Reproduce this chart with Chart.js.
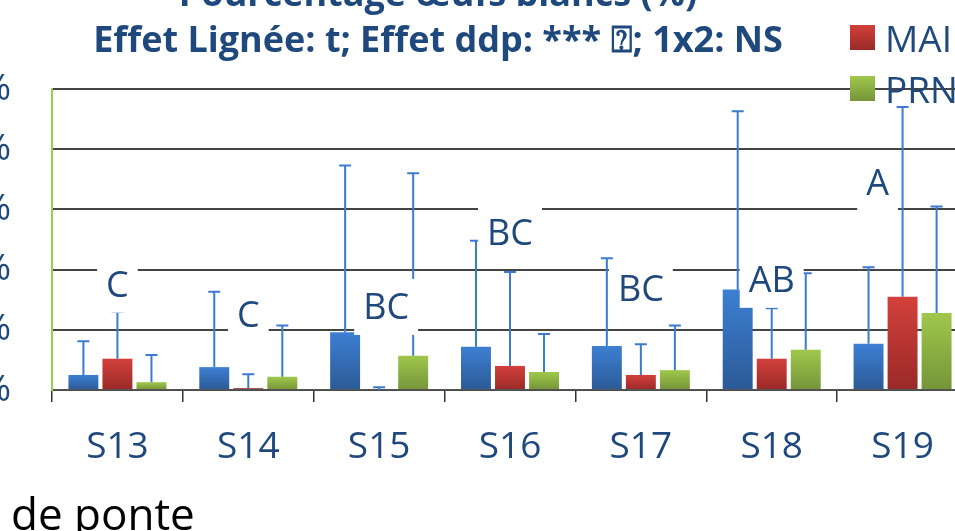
<!DOCTYPE html>
<html lang="fr">
<head>
<meta charset="UTF-8">
<title>Pourcentage œufs blancs</title>
<script src="https://cdn.jsdelivr.net/npm/chart.js"></script>
<style>
  body {
    margin: 0;
    width: 955px;
    height: 531px;
    overflow: hidden;
    position: relative;
    background: #fff;
    font-family: "Open Sans", "DejaVu Sans", sans-serif;
  }
  #wrap { position: absolute; left: -92px; top: -40px; }
  #legend { position: absolute; left: 850px; top: -39px; white-space: nowrap; }
  .item { display: flex; align-items: center; height: 51px; font-size: 37px; color: #1f497d; }
  .item:first-child { margin-top: -16px; height: 67px; align-items: flex-start; }
  .sw { width: 25px; height: 25px; margin-right: 10px; flex: none; }
  #footer { position: absolute; left: 11px; top: 491px; font-size: 44px; line-height: 44px; color: #000; }
</style>
</head>
<body>
<div id="wrap"><canvas id="chart" width="1060" height="571"></canvas></div>
<div id="legend"></div>
<div id="footer">de ponte</div>

<script>
// semaines de ponte
const weeks = ['S13', 'S14', 'S15', 'S16', 'S17', 'S18', 'S19'];
const seriesNames = ['Série 1', 'MAI', 'PRN'];

// moyennes (%)
const blueValues = [0.5, 0.76, 1.92, 1.44, 1.46, 3.34, 1.54];
const redValues = [1.04, 0.06, 0, 0.8, 0.5, 1.04, 3.1];
const greenValues = [0.26, 0.44, 1.14, 0.6, 0.66, 1.34, 2.56];

// écarts-types (barre du haut seulement)
const blueErr = [1.12, 2.5, 5.54, 3.52, 2.92, 5.92, 2.54];
const redErr = [1.56, 0.46, 0.09, 3.12, 1.02, 1.68, 6.3];
const greenErr = [0.9, 1.7, 6.06, 1.26, 1.48, 2.54, 3.54];

// lettres de comparaison et leur niveau (%)
const letters = ['C', 'C', 'BC', 'BC', 'BC', 'AB', 'A'];
const letterLevel = [3.5, 2.5, 2.76, 5.24, 3.36, 3.66, 6.9];

const yTicks = [0, 2, 4, 6, 8, 10];

const colors = [
    ['#3d7fd3', '#2b5a96'],
    ['#d3403b', '#992a28'],
    ['#9fc84b', '#75943a']
];

function barGradient(top, bottom) {
    return function(ctx) {
        const chart = ctx.chart;
        if (!chart.chartArea || ctx.type !== 'data') return top;
        const y = chart.scales.y;
        const y0 = y.getPixelForValue(ctx.raw);
        const y1 = y.getPixelForValue(0);
        if (y1 - y0 < 2) return bottom;
        const g = chart.ctx.createLinearGradient(0, y0, 0, y1);
        g.addColorStop(0, top);
        g.addColorStop(1, bottom);
        return g;
    };
}

const errorsAndLetters = {
    id: 'errorsAndLetters',
    afterDatasetsDraw(chart, args, opts) {
        const ctx = chart.ctx;
        const y = chart.scales.y;
        const x = chart.scales.x;
        ctx.save();
        ctx.strokeStyle = opts.color;
        ctx.lineWidth = 2;
        chart.data.datasets.forEach((ds, i) => {
            chart.getDatasetMeta(i).data.forEach((bar, j) => {
                const top = y.getPixelForValue(ds.data[j] + ds.errors[j]);
                ctx.beginPath();
                ctx.moveTo(bar.x, bar.y);
                ctx.lineTo(bar.x, top);
                ctx.moveTo(bar.x - 6, top);
                ctx.lineTo(bar.x + 6, top);
                ctx.stroke();
            });
        });
        ctx.font = '36px "Open Sans", sans-serif';
        ctx.textAlign = 'center';
        ctx.textBaseline = 'middle';
        letters.forEach((t, j) => {
            const cx = x.getPixelForValue(j) + opts.shift[j];
            const cy = y.getPixelForValue(letterLevel[j]);
            const w = ctx.measureText(t).width + 18;
            ctx.fillStyle = '#fff';
            ctx.fillRect(cx - w / 2, cy - 28, w, 56);
            ctx.fillStyle = '#1f497d';
            ctx.fillText(t, cx, cy + 2);
        });
        ctx.restore();
    }
};

const datasets = [blueValues, redValues, greenValues].map((vals, i) => ({
    label: seriesNames[i],
    data: vals,
    errors: [blueErr, redErr, greenErr][i],
    backgroundColor: barGradient(colors[i][0], colors[i][1]),
    categoryPercentage: 0.78,
    barPercentage: 0.88
}));

const chart = new Chart(document.getElementById('chart'), {
    type: 'bar',
    data: { labels: weeks, datasets: datasets },
    options: {
        responsive: false,
        animation: false,
        layout: { padding: 0 },
        plugins: {
            legend: { display: false },
            tooltip: { enabled: false },
            title: {
                display: true,
                text: ['Pourcentage œufs blancs (%)', 'Effet Lignée: t; Effet ddp: *** ⍰; 1x2: NS'],
                color: '#1f497d',
                font: { family: '"Open Sans", "DejaVu Sans", sans-serif', size: 36, weight: 'bold', lineHeight: 46 / 36 },
                padding: { top: 13, bottom: 24 }
            },
            errorsAndLetters: {
                color: '#3b7bd0',
                shift: [0, 0, 7, 0, 0, 0, -25]
            }
        },
        scales: {
            x: {
                grid: { offset: true, drawOnChartArea: false, tickLength: 12, color: '#333', lineWidth: 1.5 },
                border: { color: '#555', width: 1.5 },
                ticks: { color: '#1f497d', padding: 23, font: { family: '"Open Sans", sans-serif', size: 37 } },
                afterFit: s => { s.height = 141; }
            },
            y: {
                min: 0,
                max: 10,
                afterBuildTicks: s => { s.ticks = yTicks.map(v => ({ value: v })); },
                grid: { color: '#444', lineWidth: 2, drawTicks: false },
                border: { color: '#92d050', width: 2 },
                ticks: {
                    color: '#1f497d',
                    padding: 41,
                    font: { family: '"Open Sans", sans-serif', size: 37 },
                    callback: v => v + '%'
                },
                afterFit: s => { s.width = 144; }
            }
        }
    },
    plugins: [errorsAndLetters]
});

// légende à droite
const legend = document.getElementById('legend');
seriesNames.forEach((name, i) => {
    const item = document.createElement('div');
    item.className = 'item';
    item.innerHTML = '<div class="sw" style="background:linear-gradient(' + colors[i][0] + ',' + colors[i][1] + ')"></div>' + name;
    legend.appendChild(item);
});
</script>
</body>
</html>
